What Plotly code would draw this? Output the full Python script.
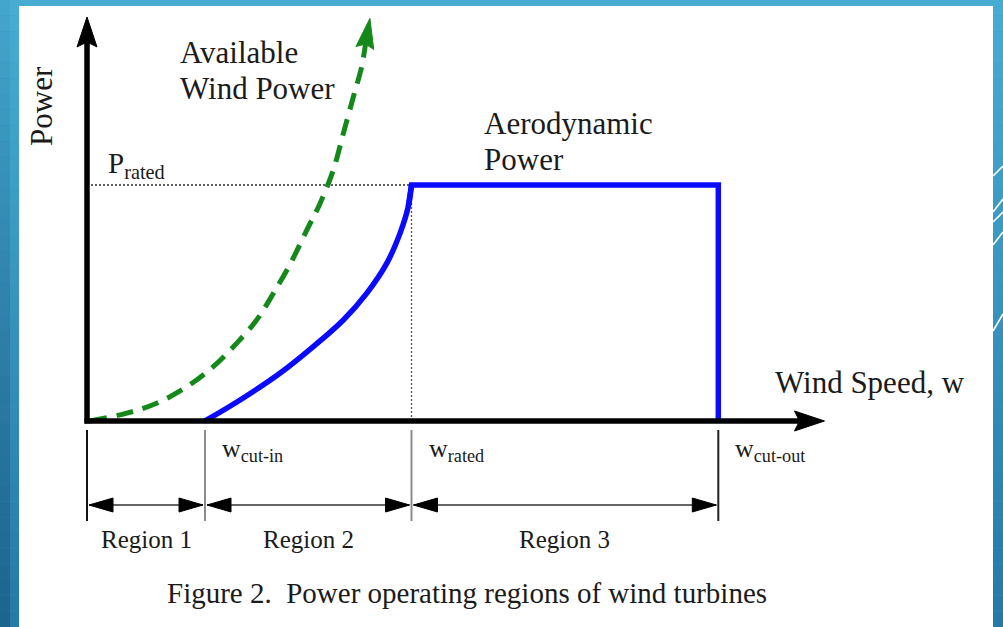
import math
import plotly.graph_objects as go

# ---------------------------------------------------------------------------
# Data (schematic wind-turbine power curve, wind speed in m/s, power in p.u.)
# ---------------------------------------------------------------------------
W_CUT_IN = 4.0
W_RATED = 11.0
W_CUT_OUT = 21.4
P_RATED = 1.0

# Aerodynamic power captured between cut-in and rated wind speed
aero_w = [4.0, 5.19, 6.54, 7.67, 8.69, 9.48, 10.16, 10.61, 10.89, 11.0]
aero_p = [0.0, 0.089, 0.202, 0.315, 0.428, 0.541, 0.668, 0.795, 0.908, 1.0]

# Available wind power (keeps rising, ends with an arrow)
avail_w = [0.1, 1.35, 2.36, 3.38, 4.28, 5.07, 5.75, 6.32, 6.90, 7.45,
           7.90, 8.35, 8.69, 9.03, 9.31, 9.59]
avail_p = [0.0, 0.033, 0.075, 0.145, 0.230, 0.329, 0.428, 0.541, 0.668, 0.809,
           0.922, 1.064, 1.219, 1.374, 1.501, 1.706]

# Ends of the two axis arrows
W_AXIS_END = 25.0
P_AXIS_END = 1.712

region_edges = [0.0, W_CUT_IN, W_RATED, W_CUT_OUT]
region_labels = ["Region 1", "Region 2", "Region 3"]
speed_labels = ["w<sub>cut-in</sub>", "w<sub>rated</sub>", "w<sub>cut-out</sub>"]

# ---------------------------------------------------------------------------
# Page geometry
# ---------------------------------------------------------------------------
FIG_W, FIG_H = 1003, 627
OX, OY = 87.0, 421.0      # pixel position of the origin
SX, SY = 29.5, 236.0      # pixels per m/s and per p.u.

X_RANGE = [-OX / SX, (FIG_W - OX) / SX]
Y_RANGE = [-(FIG_H - OY) / SY, OY / SY]

FONT = "Liberation Serif, Times New Roman, serif"
INK = "#1b1b1b"
P_REGION_ARROW = -84 / SY
P_TICK_TOP, P_TICK_BOTTOM = -9 / SY, -100 / SY


def to_px(w, p):
    return OX + SX * w, OY - SY * p


def to_data(x, y):
    return (x - OX) / SX, (OY - y) / SY


def head(tip_w, tip_p, from_w, from_p, length, half, notch=0.0):
    """Filled arrowhead polygon (data coords) and the point at its base."""
    tx, ty = to_px(tip_w, tip_p)
    fx, fy = to_px(from_w, from_p)
    dx, dy = tx - fx, ty - fy
    n = math.hypot(dx, dy)
    ux, uy = dx / n, dy / n
    nx, ny = -uy, ux
    bx, by = tx - ux * length, ty - uy * length
    pts = [(tx, ty), (bx + nx * half, by + ny * half),
           (bx + ux * notch, by + uy * notch),
           (bx - nx * half, by - ny * half), (tx, ty)]
    ws, ps = zip(*[to_data(x, y) for x, y in pts])
    base = to_data(bx + ux * notch, by + uy * notch)
    return list(ws), list(ps), base


def paper(x, y):
    return x / FIG_W, 1 - y / FIG_H


fig = go.Figure()


def add_line(ws, ps, color, width, dash="solid", shape="linear"):
    fig.add_trace(go.Scatter(x=ws, y=ps, mode="lines",
                             line=dict(color=color, width=width, dash=dash, shape=shape),
                             hoverinfo="skip", showlegend=False))


def add_poly(ws, ps, color):
    fig.add_trace(go.Scatter(x=ws, y=ps, mode="lines", fill="toself",
                             fillcolor=color, line=dict(color=color, width=1),
                             hoverinfo="skip", showlegend=False))


# Rated-power guide lines (dotted)
add_line([0, W_RATED], [P_RATED, P_RATED], "#2a2a2a", 1.4, dash="2px,2px")
add_line([W_RATED, W_RATED], [0, P_RATED], "#555555", 1.3, dash="2px,2px")

# Available wind power, dashed green with arrowhead
GREEN = "#14891a"
gw, gp, gbase = head(avail_w[-1], avail_p[-1], avail_w[-2], avail_p[-2], 30, 9, 4)
add_line(avail_w[:-1] + [gbase[0]], avail_p[:-1] + [gbase[1]], GREEN, 5,
         dash="17px,10px", shape="spline")
add_poly(gw, gp, GREEN)

# Aerodynamic power: smooth rise up to rated speed, then flat until cut-out
BLUE = "#0a0aff"
add_line(aero_w, aero_p, BLUE, 5.5, shape="spline")
add_line(aero_w[-2:] + [W_CUT_OUT, W_CUT_OUT], aero_p[-2:] + [P_RATED, 0.0], BLUE, 5.5)

# Axes with arrowheads
yw, yp, ybase = head(0.0, P_AXIS_END, 0.0, 0.0, 30, 10, 5)
add_line([0.0, 0.0], [-2.5 / SY, ybase[1]], "black", 5.5)
add_poly(yw, yp, "black")
xw, xp, xbase = head(W_AXIS_END, 0.0, 0.0, 0.0, 30, 10, 5)
add_line([-2.5 / SX, xbase[0]], [0.0, 0.0], "black", 5.5)
add_poly(xw, xp, "black")

# Region boundary ticks
tick_colors = ["#111111", "#8c8c8c", "#8c8c8c", "#222222"]
for edge, col in zip(region_edges, tick_colors):
    add_line([edge, edge], [P_TICK_TOP, P_TICK_BOTTOM], col, 2)

# Double-headed region arrows
gap = 2.0 / SX
for a, b in zip(region_edges[:-1], region_edges[1:]):
    add_line([a + gap, b - gap], [P_REGION_ARROW, P_REGION_ARROW], "#666666", 2)
    lw, lp, _ = head(a + gap, P_REGION_ARROW, b, P_REGION_ARROW, 24, 7)
    add_poly(lw, lp, "black")
    rw, rp, _ = head(b - gap, P_REGION_ARROW, a, P_REGION_ARROW, 24, 7)
    add_poly(rw, rp, "black")

# ---------------------------------------------------------------------------
# Text
# ---------------------------------------------------------------------------
annotations = []


def text(s, x, y, size, xanchor="left", angle=0):
    annotations.append(dict(text=s, x=x, y=y, xref="paper", yref="paper",
                            xanchor=xanchor, yanchor="middle", showarrow=False,
                            textangle=angle,
                            font=dict(family=FONT, size=size, color=INK)))


text("Power", *paper(41, 106), 31, xanchor="center", angle=-90)
text("Available", *paper(178, 53), 31)
text("Wind Power", *paper(178, 88), 31)
text("Aerodynamic", *paper(482, 124), 31)
text("Power", *paper(482, 159), 31)
text("Wind Speed, w", *paper(773, 382), 31)
text("P<sub>rated</sub>", *paper(106, 165), 29)

for edge, lab in zip(region_edges[1:], speed_labels):
    annotations.append(dict(text=lab, x=edge, y=-29 / SY, xref="x", yref="y",
                            xanchor="left", yanchor="middle", showarrow=False,
                            xshift=15, font=dict(family=FONT, size=26, color=INK)))

for a, b, lab in zip(region_edges[:-1], region_edges[1:], region_labels):
    annotations.append(dict(text=lab, x=(a + b) / 2, y=-118 / SY, xref="x", yref="y",
                            xanchor="center", yanchor="middle", showarrow=False,
                            font=dict(family=FONT, size=25, color=INK)))

text("Figure 2.&nbsp; Power operating regions of wind turbines",
     *paper(467, 593), 29, xanchor="center")

# ---------------------------------------------------------------------------
# Slide background: blue gradient, white panel, thin accent strokes
# ---------------------------------------------------------------------------
shapes = []
top_rgb = (70, 172, 210)
bot_rgb = (38, 122, 166)
n_bands = 40
for i in range(n_bands):
    t = i / (n_bands - 1)
    c = tuple(round(top_rgb[k] + (bot_rgb[k] - top_rgb[k]) * t) for k in range(3))
    shapes.append(dict(type="rect", xref="paper", yref="paper", layer="below",
                       x0=0, x1=1, y0=1 - (i + 1) / n_bands, y1=1 - i / n_bands,
                       fillcolor="rgb(%d,%d,%d)" % c, line=dict(width=0)))
# darker left edge
for i in range(n_bands):
    t = i / (n_bands - 1)
    a = 0.05 + 0.25 * t
    shapes.append(dict(type="rect", xref="paper", yref="paper", layer="below",
                       x0=0, x1=10 / FIG_W, y0=1 - (i + 1) / n_bands, y1=1 - i / n_bands,
                       fillcolor="rgba(10,50,90,%.3f)" % a, line=dict(width=0)))

px0, py0 = paper(19, 6)
px1, py1 = paper(993, FIG_H)
shapes.append(dict(type="rect", xref="paper", yref="paper", layer="below",
                   x0=px0, x1=px1, y0=py1, y1=py0, fillcolor="white",
                   line=dict(width=0)))

for (x0, y0, x1, y1) in [(993, 176, 1003, 166), (993, 212, 1003, 199),
                         (993, 222, 1003, 212), (993, 245, 1003, 232),
                         (993, 331, 1003, 314)]:
    a0 = paper(x0, y0)
    a1 = paper(x1, y1)
    shapes.append(dict(type="line", xref="paper", yref="paper", layer="below",
                       x0=a0[0], y0=a0[1], x1=a1[0], y1=a1[1],
                       line=dict(color="white", width=1.6)))

fig.update_layout(
    width=FIG_W, height=FIG_H,
    margin=dict(l=0, r=0, t=0, b=0),
    paper_bgcolor="rgb(60,150,195)",
    plot_bgcolor="rgba(0,0,0,0)",
    xaxis=dict(range=X_RANGE, visible=False, fixedrange=True),
    yaxis=dict(range=Y_RANGE, visible=False, fixedrange=True),
    shapes=shapes,
    annotations=annotations,
    showlegend=False,
)

fig.write_html("out.html", config={"displayModeBar": False})
